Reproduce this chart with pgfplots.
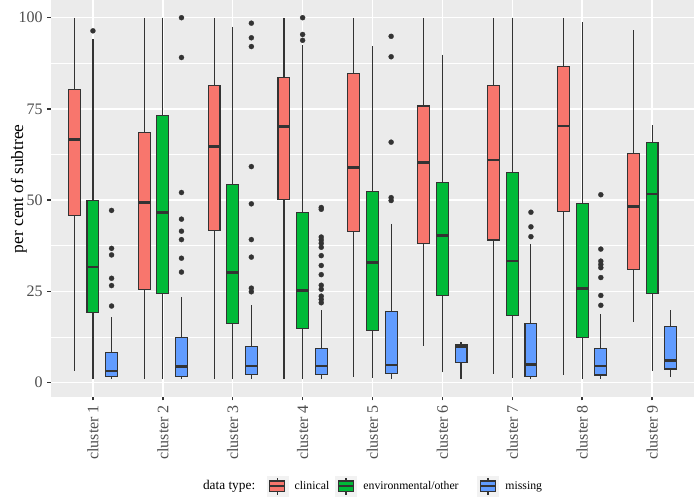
\documentclass[border=0pt]{standalone}
\usepackage{fontspec}
\setmainfont{Liberation Serif}
\usepackage{pgfplots}
\pgfplotsset{compat=1.18}
\usepgfplotslibrary{statistics}
\definecolor{cred}{HTML}{F8766D}
\definecolor{cgreen}{HTML}{00BA38}
\definecolor{cblue}{HTML}{619CFF}
\definecolor{gline}{HTML}{333333}
\definecolor{ggbg}{HTML}{EBEBEB}
\definecolor{gg30}{HTML}{4D4D4D}
\definecolor{gkey}{HTML}{F2F2F2}
\newcommand{\gap}[1]{\hspace*{#1}}
\pgfplotsset{
  table/otab/.style={row sep=\\, y index=0, header=false},
  gkeyimg/.style={legend image code/.code={
    \fill[gkey] (0pt,-7.5pt) rectangle (15.75pt,7.5pt);
    \draw[gline, line width=0.85pt] (7.875pt,-6.4pt) -- (7.875pt,6.4pt);
    \filldraw[fill=#1, draw=gline, line width=0.85pt] (2.25pt,-4pt) rectangle (13.5pt,4pt);
    \draw[gline, line width=1.3pt] (2.25pt,0pt) -- (13.5pt,0pt);
  }},
}
\newcommand{\bx}[7]{\addplot[forget plot, draw=gline, fill=#1, line width=0.85pt, mark=*, mark size=1.9pt, mark options={fill=gline, draw=gline, line width=0.2pt, solid}, boxplot/draw direction=y, boxplot prepared={draw position=#2, lower whisker=#3, lower quartile=#4, median=#5, upper quartile=#6, upper whisker=#7, box extend=0.17, whisker extend=0}]}
\begin{document}
\begin{tikzpicture}
\begin{axis}[name=main, scale only axis, width=482.25pt, height=297.5pt,
  xmin=0.4, xmax=9.6, ymin=-3.84, ymax=104.85,
  axis background/.style={fill=ggbg},
  axis line style={draw=none},
  xtick={1,2,3,4,5,6,7,8,9},
  xticklabels={cluster 1,cluster 2,cluster 3,cluster 4,cluster 5,cluster 6,cluster 7,cluster 8,cluster 9},
  ytick={0,25,50,75,100},
  minor ytick={12.5,37.5,62.5,87.5},
  grid=both,
  major grid style={white, line width=1.07pt},
  minor grid style={white, line width=0.53pt},
  tick align=outside, xtick pos=bottom, ytick pos=left,
  major tick length=2.75pt, minor tick length=0pt,
  tick style={gline, line width=1.07pt},
  ticklabel style={font=\fontsize{12}{14}\selectfont, text=gg30},
  /pgf/number format/assume math mode=true,
  xticklabel style={rotate=90, anchor=east},
  ylabel={per cent of subtree},
  ylabel style={font=\fontsize{13}{15}\selectfont, at={(axis description cs:-0.0501,0.524)}, anchor=center},
  boxplot/every box/.style={line width=0.85pt},
  boxplot/every whisker/.style={line width=0.85pt},
  boxplot/every median/.style={line width=2pt},
  legend style={at={(axis description cs:0.5,-0.226)}, anchor=center, draw=none, fill=none,
    /tikz/column sep=0pt, nodes={inner sep=0pt}, font=\fontsize{8.8}{10}\selectfont},
  legend columns=-1, legend cell align=left,
]
\addlegendimage{empty legend}\addlegendentry{\fontsize{10}{12}\selectfont data type:\gap{8.5pt}}
\addlegendimage{gkeyimg=cred}\addlegendentry{\gap{5pt}clinical\gap{4.5pt}}
\addlegendimage{gkeyimg=cgreen}\addlegendentry{\gap{5pt}environmental/other\gap{14pt}}
\addlegendimage{gkeyimg=cblue}\addlegendentry{\gap{5pt}missing}

% cluster 1
\bx{cred}{0.7333}{3.3}{45.7}{66.7}{80.4}{100} coordinates {};
\bx{cgreen}{1}{1.0}{19.3}{31.7}{50.0}{94.2} table[otab]{96.4\\};
\bx{cblue}{1.2667}{1.0}{1.6}{3.2}{8.3}{17.9} table[otab]{47.2\\36.8\\35.0\\28.6\\26.6\\21.0\\};
% cluster 2
\bx{cred}{1.7333}{1.0}{25.6}{49.3}{68.5}{100} coordinates {};
\bx{cgreen}{2}{1.0}{24.4}{46.6}{73.1}{100} coordinates {};
\bx{cblue}{2.2667}{1.0}{1.6}{4.5}{12.3}{23.5} table[otab]{100\\89.1\\52.1\\44.8\\41.5\\39.2\\34.1\\30.3\\};
% cluster 3
\bx{cred}{2.7333}{1.0}{41.8}{64.8}{81.5}{100} coordinates {};
\bx{cgreen}{3}{1.0}{16.3}{30.1}{54.4}{97.5} coordinates {};
\bx{cblue}{3.2667}{1.0}{2.2}{4.6}{9.9}{21.2} table[otab]{98.5\\94.5\\92.1\\59.2\\49.0\\39.2\\34.4\\25.9\\24.9\\};
% cluster 4
\bx{cred}{3.7333}{1.0}{50.2}{70.1}{83.7}{100} coordinates {};
\bx{cgreen}{4}{1.0}{14.9}{25.3}{46.6}{92.5} table[otab]{100\\95.4\\93.8\\};
\bx{cblue}{4.2667}{1.0}{2.2}{4.6}{9.3}{19.9} table[otab]{48.0\\47.5\\39.9\\39.1\\38.2\\37.1\\34.8\\32.1\\29.6\\26.7\\25.6\\23.7\\22.8\\21.9\\};
% cluster 5
\bx{cred}{4.7333}{1.6}{41.5}{59.0}{84.8}{100} coordinates {};
\bx{cgreen}{5}{1.4}{14.4}{32.9}{52.4}{92.2} coordinates {};
\bx{cblue}{5.2667}{1.0}{2.4}{4.8}{19.4}{43.6} table[otab]{94.9\\89.3\\65.9\\50.7\\49.9\\};
% cluster 6
\bx{cred}{5.7333}{10.1}{38.2}{60.3}{75.8}{100} coordinates {};
\bx{cgreen}{6}{2.8}{23.9}{40.3}{54.8}{89.9} coordinates {};
\bx{cblue}{6.2667}{1.1}{5.6}{10.0}{10.5}{11.1} coordinates {};
% cluster 7
\bx{cred}{6.7333}{2.4}{39.1}{61.0}{81.5}{100} coordinates {};
\bx{cgreen}{7}{1.4}{18.5}{33.3}{57.7}{100} coordinates {};
\bx{cblue}{7.2667}{1.0}{1.6}{4.9}{16.3}{37.9} table[otab]{46.7\\42.7\\40.0\\};
% cluster 8
\bx{cred}{7.7333}{2.1}{46.8}{70.3}{86.6}{100} coordinates {};
\bx{cgreen}{8}{1.0}{12.4}{25.8}{49.0}{98.7} coordinates {};
\bx{cblue}{8.2667}{1.0}{2.1}{4.6}{9.3}{18.8} table[otab]{51.5\\36.6\\33.3\\32.4\\31.5\\28.8\\23.9\\21.2\\};
% cluster 9
\bx{cred}{8.7333}{16.7}{31.1}{48.2}{62.8}{96.6} coordinates {};
\bx{cgreen}{9}{3.3}{24.5}{51.7}{65.8}{70.6} coordinates {};
\bx{cblue}{9.2667}{1.6}{3.75}{6.0}{15.5}{19.9} coordinates {};
\end{axis}
\pgfresetboundingbox
\path ([xshift=-38.25pt,yshift=-75.2pt]main.south west) rectangle (main.north east);
\end{tikzpicture}
\end{document}
